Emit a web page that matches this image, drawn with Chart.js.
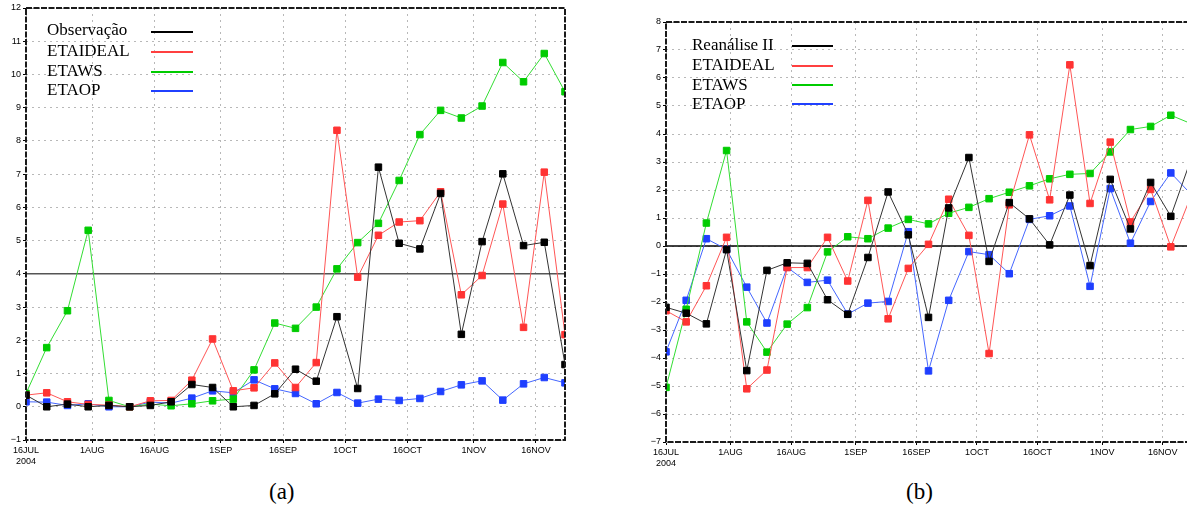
<!DOCTYPE html>
<html>
<head>
<meta charset="utf-8">
<script src="https://cdn.jsdelivr.net/npm/chart.js@4.4.0/dist/chart.umd.min.js"></script>
<style>
  html, body { margin:0; padding:0; background:#fff; width:1187px; height:517px; overflow:hidden; }
  canvas { position:absolute; top:0; }
  .lg { position:absolute; font-family:"Liberation Serif","DejaVu Serif",serif; font-size:17px; line-height:20px; color:#000; white-space:nowrap; }
  .ln { position:absolute; height:2px; }
  .cap { position:absolute; font-family:"Liberation Serif","DejaVu Serif",serif; font-size:23px; color:#000; }
</style>
</head>
<body>
<canvas id="ca" width="580" height="470" style="left:0px;width:580px;height:470px"></canvas>
<canvas id="cb" width="600" height="472" style="left:610px;width:600px;height:472px"></canvas>

<div class="lg" style="left:47px;top:20px">Observação</div>
<div class="lg" style="left:47px;top:41px">ETAIDEAL</div>
<div class="lg" style="left:47px;top:61px">ETAWS</div>
<div class="lg" style="left:47px;top:80px">ETAOP</div>
<div class="ln" style="left:151px;width:42px;top:31px;background:#000"></div>
<div class="ln" style="left:151px;width:42px;top:51px;background:#ff4040"></div>
<div class="ln" style="left:151px;width:42px;top:71px;background:#00cc00"></div>
<div class="ln" style="left:151px;width:42px;top:90px;background:#2040ff"></div>

<div class="lg" style="left:692px;top:35px">Reanálise II</div>
<div class="lg" style="left:692px;top:55px">ETAIDEAL</div>
<div class="lg" style="left:692px;top:75px">ETAWS</div>
<div class="lg" style="left:692px;top:94px">ETAOP</div>
<div class="ln" style="left:792px;width:41px;top:45px;background:#000"></div>
<div class="ln" style="left:792px;width:41px;top:65px;background:#ff4040"></div>
<div class="ln" style="left:792px;width:41px;top:84px;background:#00cc00"></div>
<div class="ln" style="left:792px;width:41px;top:103px;background:#2040ff"></div>

<div class="cap" style="left:269px;top:479px">(a)</div>
<div class="cap" style="left:906px;top:479px">(b)</div>

<script>
// ---- data ----
const days = [0,5,10,15,20,25,30,35,40,45,50,55,60,65,70,75,80,85,90,95,100,105,110,115,120,125,130];
const tickDays = [0,16,31,47,62,77,92,108,123];
const tickLabels = [['16JUL','2004'],'1AUG','16AUG','1SEP','16SEP','1OCT','16OCT','1NOV','16NOV'];

// panel (a)
const obsA   = [0.35,0.0,0.08,0.0,0.04,0.0,0.04,0.15,0.67,0.58,0.0,0.04,0.39,1.13,0.77,2.71,0.55,7.21,4.92,4.75,6.42,2.18,4.97,7.01,4.85,4.95,1.27];
const idealA = [0.35,0.42,0.15,0.07,0.05,0.0,0.18,0.19,0.8,2.04,0.48,0.57,1.32,0.58,1.33,8.32,3.9,5.16,5.56,5.6,6.47,3.37,3.95,6.1,2.39,7.06,2.17];
const wsA    = [0.4,1.78,2.89,5.31,0.19,0.0,0.08,0.03,0.09,0.18,0.23,1.11,2.52,2.36,3.0,4.15,4.94,5.52,6.81,8.19,8.92,8.69,9.05,10.36,9.78,10.63,9.48];
const opA    = [0.15,0.14,0.04,0.09,0.0,0.0,0.14,0.11,0.26,0.48,0.42,0.81,0.54,0.4,0.09,0.43,0.11,0.23,0.19,0.25,0.46,0.66,0.78,0.2,0.69,0.88,0.72];

// panel (b)
const reanB  = [-2.19,-2.40,-2.78,-0.13,-4.45,-0.87,-0.6,-0.62,-1.92,-2.44,-0.41,1.93,0.4,-2.55,1.36,3.16,-0.55,1.55,0.97,0.04,1.82,-0.7,2.38,0.61,2.27,1.06,3.1];
const idealB = [-2.31,-2.71,-1.42,0.31,-5.1,-4.43,-0.77,-0.77,0.31,-1.25,1.63,-2.6,-0.8,0.06,1.67,0.38,-3.84,1.47,3.97,1.65,6.47,1.52,3.71,0.86,2.02,-0.03,1.79];
const wsB    = [-5.05,-2.26,0.82,3.41,-2.71,-3.79,-2.79,-2.2,-0.21,0.33,0.26,0.64,0.95,0.79,1.17,1.38,1.69,1.92,2.15,2.4,2.56,2.59,3.36,4.16,4.27,4.67,4.37];
const opB    = [-3.78,-1.94,0.26,-0.12,-1.47,-2.75,-0.76,-1.3,-1.22,-2.43,-2.04,-1.98,0.51,-4.46,-1.94,-0.2,-0.31,-0.99,0.95,1.08,1.43,-1.44,2.05,0.1,1.59,2.61,1.85];

const styles = [
  {name:'black', line:'#333333', mark:'#000000'},
  {name:'red',   line:'#ff5555', mark:'#ff3333'},
  {name:'green', line:'#33dd33', mark:'#00cc00'},
  {name:'blue',  line:'#4466ff', mark:'#1f3fff'}
];

const framePlugin = {
  id: 'frame',
  beforeDatasetsDraw(chart, args, opts) {
    const {ctx, chartArea:a} = chart;
    const py = chart.scales.y.getPixelForValue(opts.refY);
    ctx.save();
    ctx.strokeStyle = opts.refColor;
    ctx.lineWidth = 1.5;
    ctx.beginPath(); ctx.moveTo(a.left, py); ctx.lineTo(a.right, py); ctx.stroke();
    ctx.restore();
  },
  afterDraw(chart) {
    const {ctx, chartArea:a} = chart;
    ctx.save();
    ctx.strokeStyle = '#1a1a1a';
    ctx.lineWidth = 2;
    ctx.setLineDash([6,1.5]);
    ctx.strokeRect(a.left, a.top, a.right - a.left, a.bottom - a.top);
    ctx.restore();
  }
};

function makeChart(id, series, yMin, yMax, refY, refColor, yWidth, pad) {
  const datasets = series.map((vals, i) => ({
    data: days.map((d, j) => ({x: d, y: vals[j]})),
    borderColor: styles[i].line,
    backgroundColor: styles[i].mark,
    borderWidth: 1,
    pointStyle: 'rect',
    pointRadius: 4.6,
    pointBorderWidth: 1,
    pointBorderColor: styles[i].mark,
    pointBackgroundColor: styles[i].mark,
    tension: 0
  }));
  return new Chart(document.getElementById(id), {
    type: 'line',
    data: { datasets },
    plugins: [framePlugin],
    options: {
      responsive: false,
      animation: false,
      layout: { padding: pad },
      plugins: {
        legend: { display: false },
        tooltip: { enabled: false },
        frame: { refY, refColor }
      },
      scales: {
        x: {
          type: 'linear', min: 0, max: 130,
          afterBuildTicks(scale) { scale.ticks = tickDays.map(v => ({value: v})); },
          afterFit(scale) { scale.height = 30; },
          ticks: {
            autoSkip: false, maxRotation: 0, padding: 2,
            color: '#000',
            font: { family: 'Liberation Sans', size: 9 },
            callback(v) { const k = tickDays.indexOf(v); return k >= 0 ? tickLabels[k] : ''; }
          },
          grid: { color: '#b8b8b8', lineWidth: 1, tickLength: 3, tickColor: '#000', drawTicks: true },
          border: { display: false, dash: [2,4] }
        },
        y: {
          min: yMin, max: yMax,
          afterFit(scale) { scale.width = yWidth; },
          ticks: {
            stepSize: 1, padding: 2, color: '#000',
            font: { family: 'Liberation Sans', size: 9 },
            callback(v) { return String(v).replace('-', '\u2212'); }
          },
          grid: { color: '#b8b8b8', lineWidth: 1, tickLength: 3, tickColor: '#000' },
          border: { display: false, dash: [2,4] }
        }
      }
    }
  });
}

makeChart('ca', [obsA, idealA, wsA, opA], -1, 12, 4, '#555555', 26, {left:0, right:15, top:8, bottom:0});
makeChart('cb', [reanB, idealB, wsB, opB], -7, 8, 0, '#000000', 56, {left:0, right:19, top:22, bottom:0});
</script>
</body>
</html>
